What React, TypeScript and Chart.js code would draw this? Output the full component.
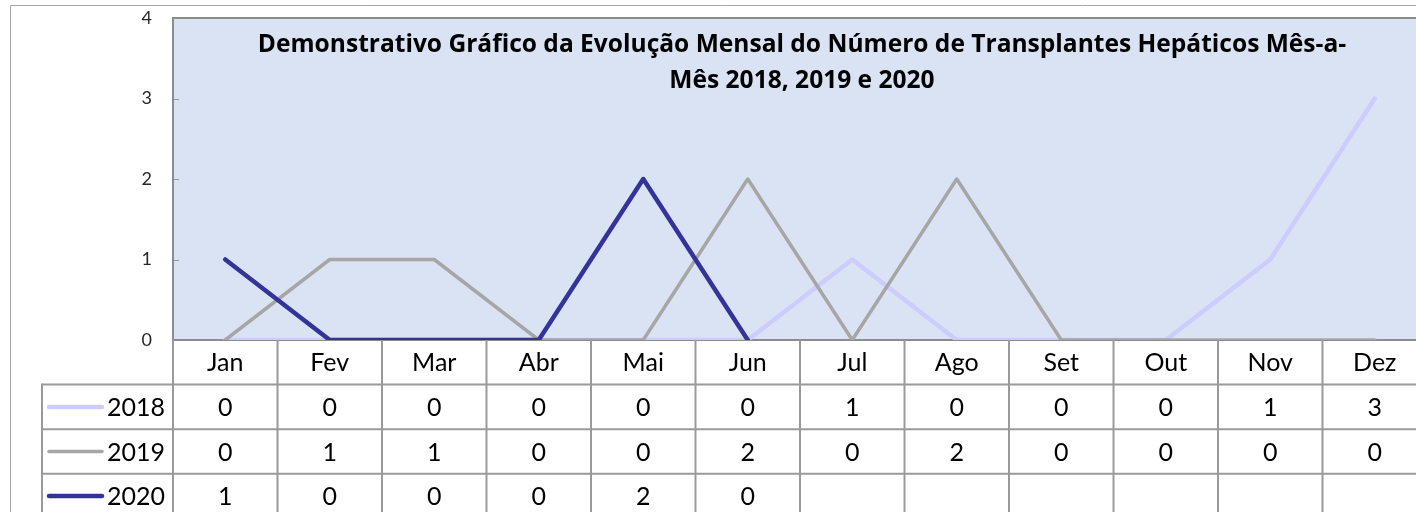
import React, { useEffect, useRef } from "react";
import { Chart, registerables } from "chart.js";

Chart.register(...registerables);

const categories = ["Jan", "Fev", "Mar", "Abr", "Mai", "Jun", "Jul", "Ago", "Set", "Out", "Nov", "Dez"];
const seriesNames = ["2018", "2019", "2020"];
const values2018 = [0, 0, 0, 0, 0, 0, 1, 0, 0, 0, 1, 3];
const values2019 = [0, 1, 1, 0, 0, 2, 0, 2, 0, 0, 0, 0];
const values2020 = [1, 0, 0, 0, 2, 0, null, null, null, null, null, null];
const yTickValues = [0, 1, 2, 3, 4];
const titleLines = [
  "Demonstrativo Gráfico da Evolução Mensal do Número de Transplantes Hepáticos Mês-a-",
  "Mês 2018, 2019 e 2020",
];

const FONT = "Lato, 'Open Sans', sans-serif";
const TITLE_FONT = "'Open Sans', Lato, sans-serif";
const GRID = "#9A9A9A";

const backgroundPlugin = {
  id: "plotBackground",
  beforeDraw(chart: any) {
    const { ctx, chartArea: a } = chart;
    ctx.save();
    ctx.fillStyle = "#FFFFFF";
    ctx.fillRect(0, 0, chart.width, chart.height);
    ctx.strokeStyle = "#A6A6A6";
    ctx.lineWidth = 1;
    ctx.beginPath();
    ctx.moveTo(10.5, chart.height);
    ctx.lineTo(10.5, 5.5);
    ctx.lineTo(chart.width, 5.5);
    ctx.stroke();
    ctx.fillStyle = "#DAE3F3";
    ctx.fillRect(a.left, a.top, a.right - a.left, a.bottom - a.top);
    ctx.strokeStyle = "#8C8C8C";
    ctx.lineWidth = 2;
    ctx.beginPath();
    ctx.moveTo(a.left - 1, a.top);
    ctx.lineTo(chart.width, a.top);
    ctx.stroke();
    const y = chart.scales.y;
    ctx.lineWidth = 1;
    ctx.strokeStyle = "#9A9A9A";
    yTickValues.forEach((v) => {
      if (v === 0 || v === 4) return;
      const py = Math.round(y.getPixelForValue(v)) + 0.5;
      ctx.beginPath();
      ctx.moveTo(a.left, py);
      ctx.lineTo(a.left + 6, py);
      ctx.stroke();
    });
    ctx.restore();
  },
};

const tablePlugin = {
  id: "dataTable",
  afterDraw(chart: any) {
    const { ctx, chartArea: a } = chart;
    const x = chart.scales.x;
    const n = categories.length;
    const colW = (a.right - a.left) / n;
    const rowH = 44.6;
    const legendLeft = 42;
    ctx.save();
    ctx.strokeStyle = GRID;
    ctx.lineWidth = 2;
    for (let k = 0; k <= n; k++) {
      const xx = a.left + k * colW;
      ctx.beginPath();
      ctx.moveTo(xx, a.bottom);
      ctx.lineTo(xx, chart.height);
      ctx.stroke();
    }
    for (let r = 1; r <= 3; r++) {
      const yy = a.bottom + r * rowH;
      ctx.beginPath();
      ctx.moveTo(legendLeft, yy);
      ctx.lineTo(chart.width, yy);
      ctx.stroke();
    }
    ctx.beginPath();
    ctx.moveTo(legendLeft, a.bottom + rowH - 1);
    ctx.lineTo(legendLeft, chart.height);
    ctx.stroke();

    ctx.fillStyle = "#000000";
    ctx.font = `25px ${FONT}`;
    ctx.textAlign = "center";
    ctx.textBaseline = "middle";
    categories.forEach((c, i) => {
      ctx.fillText(c, x.getPixelForValue(i), a.bottom + rowH / 2 + 1);
    });

    chart.data.datasets.forEach((ds: any, r: number) => {
      const cy = a.bottom + rowH * (r + 1) + rowH / 2;
      ctx.strokeStyle = ds.borderColor;
      ctx.lineWidth = ds.borderWidth;
      ctx.lineCap = "round";
      ctx.beginPath();
      ctx.moveTo(49, cy);
      ctx.lineTo(102, cy);
      ctx.stroke();
      ctx.fillStyle = "#000000";
      ctx.textAlign = "right";
      ctx.fillText(seriesNames[r], 165, cy + 1);
      ctx.textAlign = "center";
      (ds.data as (number | null)[]).forEach((v, i) => {
        if (v === null || v === undefined) return;
        ctx.fillText(String(v), x.getPixelForValue(i), cy + 1);
      });
    });

    ctx.font = `bold 20px ${TITLE_FONT}`;
    const w = ctx.measureText(titleLines[0]).width;
    const size = (20 * 1089) / w;
    ctx.font = `bold ${size.toFixed(2)}px ${TITLE_FONT}`;
    ctx.textAlign = "center";
    ctx.textBaseline = "alphabetic";
    ctx.fillText(titleLines[0], 802, 52);
    ctx.fillText(titleLines[1], 802, 88);
    ctx.restore();
  },
};

export default function App() {
  const canvasRef = useRef<HTMLCanvasElement | null>(null);

  useEffect(() => {
    document.body.style.overflow = "hidden";
    const canvas = canvasRef.current;
    if (!canvas) return;
    const lineBase = {
      pointRadius: 0,
      pointHoverRadius: 0,
      tension: 0,
      spanGaps: false,
      borderCapStyle: "round" as const,
      borderJoinStyle: "round" as const,
      fill: false,
    };
    const chart = new Chart(canvas, {
      type: "line",
      data: {
        labels: categories,
        datasets: [
          { ...lineBase, label: seriesNames[0], data: values2018, borderColor: "#CCCCFF", borderWidth: 4.5, order: 2 },
          { ...lineBase, label: seriesNames[1], data: values2019, borderColor: "#A6A6A6", borderWidth: 3.5, order: 1 },
          { ...lineBase, label: seriesNames[2], data: values2020, borderColor: "#333399", borderWidth: 4.5, order: 0 },
        ],
      },
      options: {
        responsive: false,
        animation: false,
        events: [],
        layout: { padding: { left: 0, right: 13, top: 18, bottom: 0 } },
        plugins: {
          legend: { display: false },
          title: { display: false },
          tooltip: { enabled: false },
        },
        scales: {
          x: {
            type: "category",
            offset: true,
            grid: { display: false, drawTicks: false },
            ticks: { display: false },
            border: { display: true, color: "#8C8C8C", width: 2 },
            afterFit: (s: any) => {
              s.height = 172;
              s.paddingLeft = 0;
              s.paddingRight = 0;
            },
          },
          y: {
            min: 0,
            max: 4,
            grid: { display: false, drawTicks: false },
            border: { display: true, color: "#8C8C8C", width: 2 },
            ticks: {
              stepSize: 1,
              padding: 21,
              color: "#262626",
              font: { family: FONT, size: 18 },
            },
            afterBuildTicks: (s: any) => {
              s.ticks = yTickValues.map((v) => ({ value: v }));
            },
            afterFit: (s: any) => {
              s.width = 173;
              s.paddingTop = 0;
              s.paddingBottom = 0;
            },
          },
        },
      },
      plugins: [backgroundPlugin, tablePlugin],
    });
    return () => chart.destroy();
  }, []);

  return (
    <div
      style={{
        position: "absolute",
        left: 0,
        top: 0,
        width: 1416,
        height: 512,
        overflow: "hidden",
        background: "#FFFFFF",
      }}
    >
      <canvas ref={canvasRef} width={1440} height={512} style={{ display: "block" }} />
    </div>
  );
}
